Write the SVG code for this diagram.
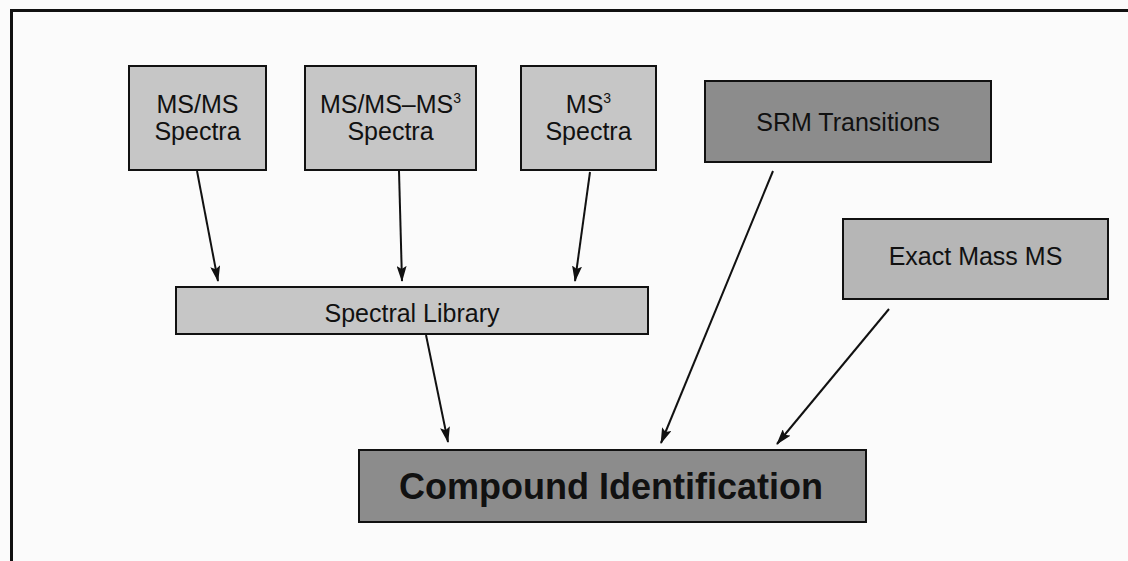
<svg xmlns="http://www.w3.org/2000/svg" width="1128" height="561" viewBox="0 0 1128 561">
<defs>
<style>
.box{stroke:#111;stroke-width:2}
.lt{fill:#c6c6c6}
.md{fill:#b6b6b6}
.dk{fill:#8c8c8c}
.lbl{font-family:"Liberation Sans",Arial,sans-serif;font-size:25px;fill:#111;text-anchor:middle}
.big{font-family:"Liberation Sans",Arial,sans-serif;font-size:36px;font-weight:bold;fill:#111;text-anchor:middle}
.con{stroke:#111;stroke-width:2;fill:none;marker-end:url(#ah)}
</style>
<marker id="ah" markerUnits="userSpaceOnUse" markerWidth="16" markerHeight="10" viewBox="0 0 16 10" refX="15" refY="5" orient="auto">
<path d="M0,0 L16,5 L0,10 L3,5 Z" fill="#111"/>
</marker>
</defs>
<rect x="0" y="0" width="1128" height="561" fill="#fbfbfb"/>
<g id="frame" stroke="#111" stroke-width="3" fill="none">
<line x1="11.5" y1="9" x2="11.5" y2="561"/>
<line x1="10" y1="10.5" x2="1128" y2="10.5"/>
</g>
<g id="connectors">
<line class="con" x1="197" y1="171" x2="218" y2="281"/>
<line class="con" x1="399" y1="171" x2="402" y2="281"/>
<line class="con" x1="590" y1="172" x2="575" y2="281"/>
<line class="con" x1="426" y1="335" x2="448" y2="442"/>
<line class="con" x1="773" y1="171" x2="661" y2="443"/>
<line class="con" x1="889" y1="309" x2="777" y2="444"/>
</g>
<g id="msms">
<rect class="box lt" x="129" y="66" width="137" height="104"/>
<text class="lbl" x="197.5" y="113">MS/MS</text>
<text class="lbl" x="197.5" y="140">Spectra</text>
</g>
<g id="msms-ms3">
<rect class="box lt" x="305" y="66" width="171" height="104"/>
<text class="lbl" x="390.5" y="113">MS/MS–MS<tspan font-size="14" dy="-10">3</tspan></text>
<text class="lbl" x="390.5" y="140">Spectra</text>
</g>
<g id="ms3">
<rect class="box lt" x="521" y="66" width="135" height="104"/>
<text class="lbl" x="588.5" y="113">MS<tspan font-size="14" dy="-10">3</tspan></text>
<text class="lbl" x="588.5" y="140">Spectra</text>
</g>
<g id="srm">
<rect class="box dk" x="705" y="81" width="286" height="81"/>
<text class="lbl" x="848" y="131">SRM Transitions</text>
</g>
<g id="exact">
<rect class="box md" x="843" y="219" width="265" height="80"/>
<text class="lbl" x="975.5" y="265">Exact Mass MS</text>
</g>
<g id="library">
<rect class="box lt" x="176" y="287" width="472" height="47"/>
<text class="lbl" x="412" y="322">Spectral Library</text>
</g>
<g id="compound">
<rect class="box dk" x="359" y="450" width="507" height="72"/>
<text class="big" x="611" y="499">Compound Identification</text>
</g>
</svg>
